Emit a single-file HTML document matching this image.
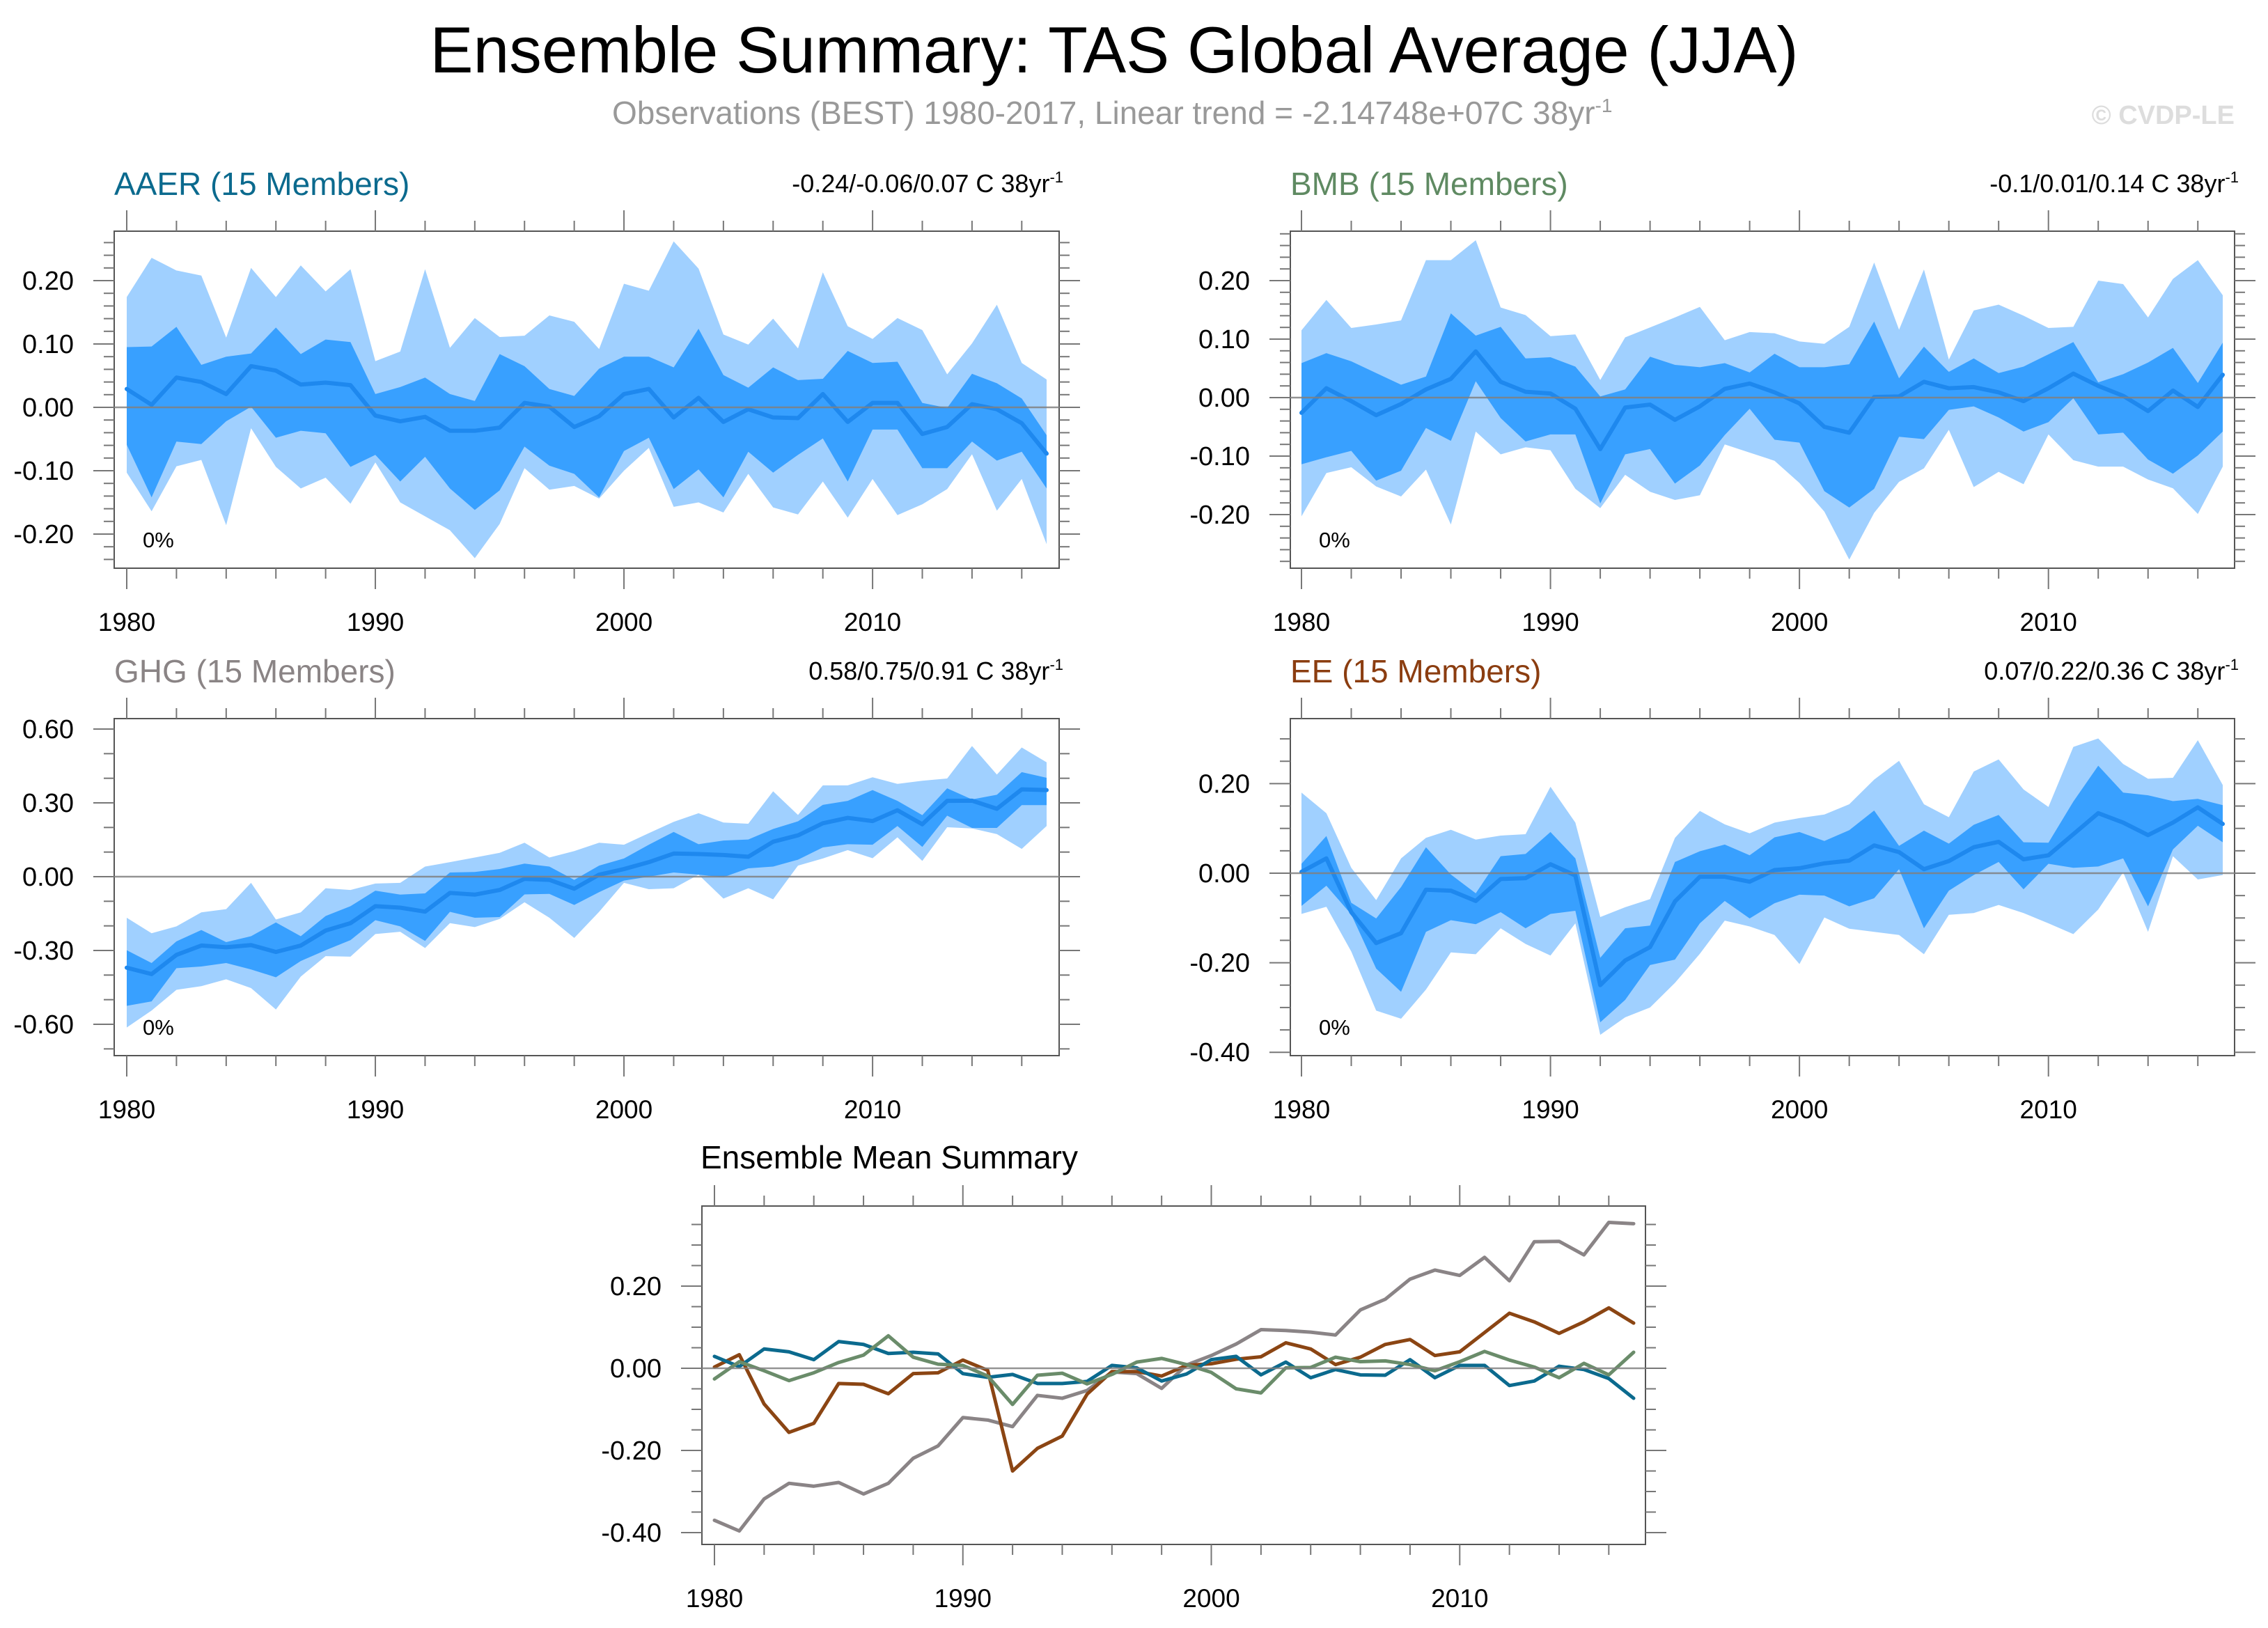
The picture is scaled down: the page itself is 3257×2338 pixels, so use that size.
<!DOCTYPE html>
<html><head><meta charset="utf-8"><title>Ensemble Summary: TAS Global Average (JJA)</title>
<style>html,body{margin:0;padding:0;background:#fff}svg{display:block}text{font-family:"Liberation Sans",Arial,sans-serif}</style>
</head><body>
<svg id="chart" xmlns="http://www.w3.org/2000/svg" width="3257" height="2338" viewBox="0 0 3257 2338">
<rect width="3257" height="2338" fill="#fff"/>
<text x="1600" y="104" font-size="94" text-anchor="middle" textLength="1965" lengthAdjust="spacingAndGlyphs" fill="#000">Ensemble Summary: TAS Global Average (JJA)</text>
<text x="879" y="178" font-size="46" fill="#999">Observations (BEST) 1980-2017, Linear trend = -2.14748e+07C 38yr<tspan dy="-17" font-size="28">-1</tspan></text>
<text x="3209" y="178" font-size="38" font-weight="bold" text-anchor="end" fill="#ddd">© CVDP-LE</text>
<g id="layer"></g>
</svg>
<script>
const years = [];
for (let y = 1980; y <= 2017; y++) years.push(y);

const aaerMean = [0.029,0.004,0.047,0.040,0.021,0.065,0.058,0.036,0.039,0.035,-0.013,-0.022,-0.015,-0.037,-0.037,-0.032,0.007,0.001,-0.031,-0.014,0.021,0.029,-0.016,0.015,-0.023,-0.003,-0.016,-0.017,0.021,-0.023,0.007,0.007,-0.042,-0.031,0.005,-0.003,-0.025,-0.073];
const aaerDarkHi = [0.095,0.096,0.127,0.067,0.080,0.085,0.126,0.084,0.107,0.103,0.021,0.032,0.047,0.021,0.010,0.084,0.065,0.029,0.018,0.061,0.080,0.080,0.063,0.124,0.051,0.031,0.063,0.043,0.045,0.089,0.070,0.072,0.007,-0.001,0.053,0.038,0.014,-0.044];
const aaerDarkLo = [-0.059,-0.142,-0.054,-0.058,-0.022,0.001,-0.048,-0.037,-0.041,-0.094,-0.075,-0.117,-0.078,-0.128,-0.162,-0.131,-0.062,-0.092,-0.105,-0.142,-0.069,-0.048,-0.129,-0.098,-0.142,-0.070,-0.103,-0.075,-0.049,-0.117,-0.035,-0.035,-0.096,-0.096,-0.054,-0.084,-0.070,-0.128];
const aaerLightHi = [0.174,0.236,0.216,0.208,0.110,0.220,0.174,0.224,0.183,0.218,0.073,0.088,0.218,0.094,0.141,0.111,0.113,0.145,0.135,0.092,0.195,0.184,0.262,0.219,0.115,0.099,0.140,0.093,0.213,0.128,0.108,0.141,0.122,0.052,0.101,0.162,0.070,0.044];
const aaerLightLo = [-0.103,-0.164,-0.093,-0.083,-0.186,-0.033,-0.094,-0.128,-0.111,-0.152,-0.087,-0.150,-0.172,-0.194,-0.238,-0.184,-0.096,-0.130,-0.124,-0.144,-0.100,-0.064,-0.157,-0.150,-0.166,-0.105,-0.158,-0.169,-0.117,-0.174,-0.113,-0.170,-0.153,-0.129,-0.074,-0.163,-0.113,-0.216];

const bmbMean = [-0.026,0.016,-0.006,-0.030,-0.011,0.014,0.032,0.079,0.027,0.010,0.007,-0.019,-0.088,-0.017,-0.012,-0.038,-0.015,0.015,0.024,0.009,-0.010,-0.050,-0.060,0.001,0.002,0.027,0.016,0.018,0.009,-0.006,0.016,0.041,0.020,0.003,-0.023,0.012,-0.016,0.039];
const bmbDarkHi = [0.059,0.076,0.062,0.042,0.022,0.036,0.144,0.106,0.121,0.067,0.069,0.053,0.002,0.014,0.070,0.056,0.052,0.059,0.043,0.075,0.052,0.052,0.057,0.130,0.033,0.087,0.044,0.067,0.042,0.053,0.074,0.095,0.026,0.040,0.060,0.085,0.025,0.094];
const bmbDarkLo = [-0.114,-0.102,-0.091,-0.142,-0.125,-0.052,-0.074,0.028,-0.035,-0.075,-0.063,-0.063,-0.181,-0.097,-0.088,-0.147,-0.116,-0.064,-0.019,-0.072,-0.077,-0.160,-0.188,-0.156,-0.067,-0.071,-0.021,-0.015,-0.034,-0.058,-0.042,-0.001,-0.063,-0.060,-0.106,-0.130,-0.099,-0.058];
const bmbLightHi = [0.115,0.167,0.119,0.125,0.132,0.235,0.235,0.269,0.154,0.141,0.105,0.108,0.030,0.103,0.120,0.137,0.155,0.098,0.112,0.110,0.096,0.092,0.121,0.231,0.116,0.219,0.065,0.149,0.159,0.140,0.119,0.121,0.200,0.194,0.137,0.203,0.235,0.175];
const bmbLightLo = [-0.203,-0.129,-0.119,-0.152,-0.169,-0.123,-0.217,-0.058,-0.097,-0.085,-0.090,-0.156,-0.189,-0.132,-0.161,-0.175,-0.167,-0.080,-0.094,-0.108,-0.146,-0.195,-0.277,-0.197,-0.144,-0.121,-0.055,-0.153,-0.127,-0.148,-0.063,-0.107,-0.118,-0.118,-0.140,-0.155,-0.199,-0.118];

const ghgMean = [-0.370,-0.396,-0.318,-0.280,-0.287,-0.278,-0.306,-0.280,-0.219,-0.189,-0.120,-0.126,-0.142,-0.066,-0.073,-0.054,-0.009,-0.013,-0.049,0.008,0.031,0.059,0.094,0.092,0.088,0.081,0.142,0.168,0.217,0.239,0.226,0.270,0.213,0.308,0.309,0.276,0.355,0.352];
const ghgDarkHi = [-0.299,-0.351,-0.263,-0.217,-0.266,-0.242,-0.186,-0.242,-0.160,-0.120,-0.057,-0.073,-0.068,0.017,0.019,0.031,0.053,0.041,-0.013,0.045,0.074,0.130,0.182,0.132,0.147,0.151,0.194,0.225,0.292,0.308,0.352,0.308,0.250,0.359,0.314,0.333,0.425,0.402];
const ghgDarkLo = [-0.525,-0.507,-0.372,-0.365,-0.351,-0.377,-0.409,-0.343,-0.299,-0.258,-0.177,-0.202,-0.261,-0.143,-0.167,-0.164,-0.072,-0.070,-0.115,-0.063,-0.016,0.000,0.017,0.008,-0.002,0.034,0.041,0.069,0.119,0.132,0.130,0.206,0.121,0.248,0.198,0.198,0.291,0.291];
const ghgLightHi = [-0.167,-0.230,-0.202,-0.145,-0.132,-0.025,-0.174,-0.145,-0.047,-0.054,-0.028,-0.025,0.041,0.059,0.078,0.097,0.138,0.078,0.104,0.138,0.130,0.177,0.223,0.258,0.220,0.215,0.347,0.251,0.371,0.371,0.404,0.377,0.390,0.399,0.531,0.415,0.525,0.465];
const ghgLightLo = [-0.613,-0.544,-0.460,-0.445,-0.417,-0.453,-0.540,-0.406,-0.323,-0.325,-0.233,-0.224,-0.290,-0.189,-0.205,-0.172,-0.104,-0.167,-0.249,-0.143,-0.025,-0.051,-0.047,0.008,-0.089,-0.047,-0.092,0.045,0.074,0.108,0.075,0.160,0.064,0.201,0.196,0.173,0.113,0.206];

const eeMean = [0.003,0.033,-0.087,-0.156,-0.134,-0.037,-0.039,-0.062,-0.013,-0.011,0.020,-0.005,-0.250,-0.195,-0.165,-0.063,-0.008,-0.008,-0.019,0.007,0.011,0.022,0.028,0.062,0.047,0.009,0.027,0.058,0.070,0.031,0.040,0.087,0.134,0.113,0.085,0.113,0.147,0.110];
const eeDarkHi = [0.021,0.083,-0.066,-0.101,-0.031,0.058,-0.003,-0.045,0.038,0.043,0.092,0.033,-0.189,-0.123,-0.117,0.025,0.049,0.064,0.040,0.080,0.092,0.072,0.096,0.140,0.061,0.095,0.066,0.108,0.130,0.069,0.068,0.160,0.240,0.180,0.174,0.161,0.166,0.152];
const eeDarkLo = [-0.073,-0.028,-0.092,-0.213,-0.265,-0.131,-0.105,-0.114,-0.087,-0.123,-0.091,-0.084,-0.333,-0.283,-0.205,-0.193,-0.112,-0.062,-0.101,-0.067,-0.048,-0.050,-0.074,-0.056,0.009,-0.123,-0.039,-0.004,0.025,-0.036,0.021,0.012,0.015,0.033,-0.074,0.053,0.106,0.069];
const eeLightHi = [0.180,0.134,0.012,-0.060,0.033,0.079,0.097,0.075,0.084,0.087,0.193,0.113,-0.098,-0.076,-0.058,0.079,0.139,0.109,0.089,0.113,0.123,0.131,0.154,0.209,0.251,0.154,0.125,0.227,0.254,0.187,0.148,0.282,0.301,0.244,0.211,0.213,0.297,0.197];
const eeLightLo = [-0.091,-0.075,-0.175,-0.307,-0.325,-0.260,-0.177,-0.181,-0.123,-0.158,-0.184,-0.112,-0.361,-0.322,-0.300,-0.245,-0.180,-0.106,-0.119,-0.138,-0.203,-0.099,-0.124,-0.131,-0.138,-0.181,-0.093,-0.089,-0.071,-0.089,-0.112,-0.136,-0.081,0.002,-0.131,0.038,-0.014,-0.004];

const aaerTicks = ["0.20","0.10","0.00","-0.10","-0.20"];
const bmbTicks = ["0.20","0.10","0.00","-0.10","-0.20"];
const ghgTicks = ["0.60","0.30","0.00","-0.30","-0.60"];
const eeTicks = ["0.20","0.00","-0.20","-0.40"];
const sumTicks = ["0.20","0.00","-0.20","-0.40"];
const yearTicks = ["1980","1990","2000","2010"];

const NS = "http://www.w3.org/2000/svg";
const layer = document.getElementById("layer");
function mk(tag, attrs, parent) {
  const e = document.createElementNS(NS, tag);
  for (const k in attrs) e.setAttribute(k, attrs[k]);
  (parent || layer).appendChild(e);
  return e;
}

function makePanel(p) {
  const g = mk("g", {});
  
  
  const xs = yr => p.x0 + (yr - 1980) * (p.x1 - p.x0) / 37;
  const ys = v => p.zero - v * p.ppu;
  const box = mk("rect", {x: p.L, y: p.T, width: p.R - p.L, height: p.B - p.T, fill: "#fff", stroke: "#555", "stroke-width": 2}, g);
  
  
  const tg = mk("g", {stroke: "#777", "stroke-width": 2}, g);
  
  
  for (let v = p.ymin; v <= p.ymax + 1e-9; v += p.minor) {
    const y = ys(v);
    if (y < p.T - 1 || y > p.B + 1) continue;
    const isMaj = Math.abs(v / p.major - Math.round(v / p.major)) < 1e-6;
    const len = isMaj ? 30 : 15;
    mk("line", {x1: p.L - len, x2: p.L, y1: y, y2: y}, tg);
    mk("line", {x1: p.R, x2: p.R + len, y1: y, y2: y}, tg);
  }
  for (let yr = 1980; yr <= 2017; yr += 2) {
    const x = xs(yr);
    const len = (yr % 10 === 0) ? 30 : 15;
    mk("line", {x1: x, x2: x, y1: p.T - len, y2: p.T}, tg);
    mk("line", {x1: x, x2: x, y1: p.B, y2: p.B + len}, tg);
  }
  p.ticks.forEach(t => {
    const lab = mk("text", {x: p.L - 58, y: ys(parseFloat(t)) + 13, "font-size": 38, "text-anchor": "end", fill: "#000"}, g);
    lab.textContent = t;
    
    
  });
  yearTicks.forEach(t => {
    const lab = mk("text", {x: xs(+t), y: p.B + 90, "font-size": 37, "text-anchor": "middle", fill: "#000"}, g);
    lab.textContent = t;
    
    
  });
  function band(hi, lo, color, nm) {
    let pts = years.map((yr, i) => xs(yr) + "," + ys(hi[i]));
    for (let i = years.length - 1; i >= 0; i--) pts.push(xs(years[i]) + "," + ys(lo[i]));
    const pg = mk("polygon", {points: pts.join(" "), fill: color}, g);
    
    
  }
  if (p.bands) {
    band(p.lightHi, p.lightLo, "#a0d0ff", p.name + '-outer-range');
    band(p.darkHi, p.darkLo, "#38a0ff", p.name + '-inner-range');
  }
  (p.lines || []).forEach(ln => {
    const pl = mk("polyline", {points: years.map((yr, i) => xs(yr) + "," + ys(ln.data[i])).join(" "), fill: "none", stroke: ln.color, "stroke-width": ln.w, "stroke-linejoin": "round", "stroke-linecap": "round"}, g);
    
    
  });
  const z = mk("line", {x1: p.L, x2: p.R, y1: ys(0), y2: ys(0), stroke: "#808080", "stroke-width": 2.5, "stroke-opacity": 0.85}, g);
  
  
  if (p.title) {
    const t = mk("text", {x: p.L, y: p.T - 52, "font-size": 46, fill: p.tcolor}, g);
    t.textContent = p.title;
    
    
  }
  if (p.trend) {
    const t = mk("text", {x: p.R + 6, y: p.T - 56, "font-size": 36, "text-anchor": "end", fill: "#000"}, g);
    t.textContent = p.trend;
    const s = mk("tspan", {dy: -14, "font-size": 22}, t);
    s.textContent = "-1";
    
    
  }
  if (p.bands) {
    const t = mk("text", {x: p.L + 41, y: p.B - 30, "font-size": 31, fill: "#000"}, g);
    t.textContent = "0%";
    
    
  }
}

const meanC = "#1e88ee";
makePanel({name: "aaer", L: 164, R: 1521, T: 332, B: 816, x0: 182, x1: 1503, zero: 585, ppu: 910, ymin: -0.28, ymax: 0.28, minor: 0.02, major: 0.1, ticks: aaerTicks, bands: true,
  lightHi: aaerLightHi, lightLo: aaerLightLo, darkHi: aaerDarkHi, darkLo: aaerDarkLo, lines: [{data: aaerMean, color: meanC, w: 6, name: "aaer-ensemble-mean-line"}],
  title: "AAER (15 Members)", tcolor: "#0b6a8e", trend: "-0.24/-0.06/0.07 C 38yr"});
makePanel({name: "bmb", L: 1853, R: 3209, T: 332, B: 816, x0: 1869, x1: 3192, zero: 571, ppu: 840, ymin: -0.28, ymax: 0.30, minor: 0.02, major: 0.1, ticks: bmbTicks, bands: true,
  lightHi: bmbLightHi, lightLo: bmbLightLo, darkHi: bmbDarkHi, darkLo: bmbDarkLo, lines: [{data: bmbMean, color: meanC, w: 6, name: "bmb-ensemble-mean-line"}],
  title: "BMB (15 Members)", tcolor: "#5f8a62", trend: "-0.1/0.01/0.14 C 38yr"});
makePanel({name: "ghg", L: 164, R: 1521, T: 1032, B: 1516, x0: 182, x1: 1503, zero: 1259, ppu: 353.3, ymin: -0.7, ymax: 0.7, minor: 0.1, major: 0.3, ticks: ghgTicks, bands: true,
  lightHi: ghgLightHi, lightLo: ghgLightLo, darkHi: ghgDarkHi, darkLo: ghgDarkLo, lines: [{data: ghgMean, color: meanC, w: 6, name: "ghg-ensemble-mean-line"}],
  title: "GHG (15 Members)", tcolor: "#8a8485", trend: "0.58/0.75/0.91 C 38yr"});
makePanel({name: "ee", L: 1853, R: 3209, T: 1032, B: 1516, x0: 1869, x1: 3192, zero: 1254, ppu: 643, ymin: -0.4, ymax: 0.4, minor: 0.05, major: 0.2, ticks: eeTicks, bands: true,
  lightHi: eeLightHi, lightLo: eeLightLo, darkHi: eeDarkHi, darkLo: eeDarkLo, lines: [{data: eeMean, color: meanC, w: 6, name: "ee-ensemble-mean-line"}],
  title: "EE (15 Members)", tcolor: "#8b3d10", trend: "0.07/0.22/0.36 C 38yr"});
makePanel({name: "summary", L: 1008, R: 2363, T: 1732, B: 2218, x0: 1026, x1: 2346, zero: 1965, ppu: 590, ymin: -0.45, ymax: 0.45, minor: 0.05, major: 0.2, ticks: sumTicks, bands: false,
  lines: [
    {data: ghgMean, color: "#8a8486", w: 5, name: "summary-ghg-line"},
    {data: eeMean, color: "#8b4513", w: 5, name: "summary-ee-line"},
    {data: aaerMean, color: "#0b6a8e", w: 5, name: "summary-aaer-line"},
    {data: bmbMean, color: "#6a8c6a", w: 5, name: "summary-bmb-line"}
  ]});
const st = mk("text", {x: 1006, y: 1678, "font-size": 46, fill: "#000"});
st.textContent = "Ensemble Mean Summary";


</script>
</body></html>
